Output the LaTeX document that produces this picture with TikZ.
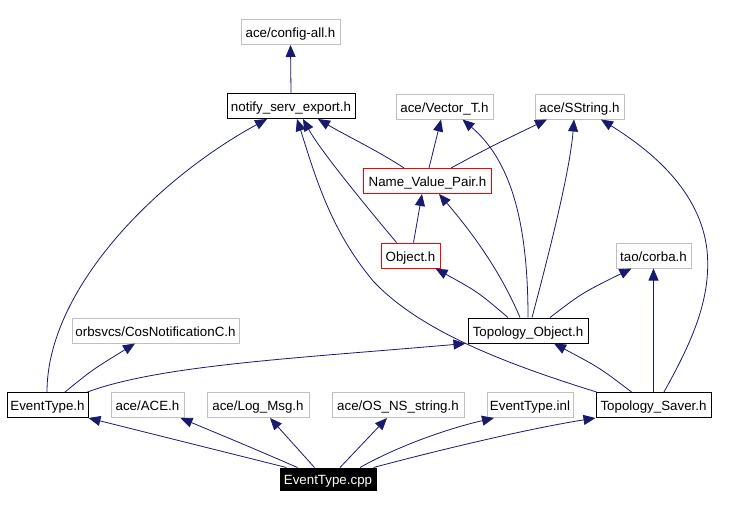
\documentclass[tikz,border=0pt]{standalone}
\usepackage{fontspec}
\setmainfont{Liberation Sans}
\usetikzlibrary{arrows.meta,calc}
\definecolor{edgecol}{HTML}{191970}
\definecolor{graybox}{HTML}{BFBFBF}
\tikzset{
  box/.style={draw, line width=0.75pt, inner sep=0pt, minimum height=18.75pt, text height=8.4pt, text depth=0pt, font=\fontsize{10pt}{12pt}\selectfont, text=black},
  graynode/.style={box, draw=graybox},
  rednode/.style={box, draw=red},
  blacknode/.style={box, draw=black},
  mainnode/.style={box, draw=black, fill=black, text=white},
  edge/.style={draw=edgecol, line width=0.6pt, -{Triangle[length=9pt,width=7.5pt]}, fill=none},
}
\begin{document}
\begin{tikzpicture}[x=0.75pt,y=-0.75pt]
\useasboundingbox[fill=white] (0,0) rectangle (748,510);
% nodes
\node[graynode, minimum width=74.25pt] (cfg) at (290.5,32) {ace/config-all.h};
\node[blacknode, minimum width=96pt] (nse) at (291,106) {notify\_serv\_export.h};
\node[graynode, minimum width=72.75pt] (vec) at (444.5,106.5) {ace/Vector\_T.h};
\node[graynode, minimum width=66.75pt] (sst) at (579.5,106.5) {ace/SString.h};
\node[rednode, minimum width=96pt] (nvp) at (427.5,181) {Name\_Value\_Pair.h};
\node[rednode, minimum width=44.25pt] (obj) at (410.5,255.5) {Object.h};
\node[graynode, minimum width=56.25pt] (tao) at (653.5,255.5) {tao/corba.h};
\node[blacknode, minimum width=90pt] (tob) at (528,330.5) {Topology\_Object.h};
\node[graynode, minimum width=125.25pt] (cos) at (155.5,330.5) {orbsvcs/CosNotificationC.h};
\node[blacknode, minimum width=60.75pt] (evh) at (47.5,405) {EventType.h};
\node[graynode, minimum width=54.75pt] (ace) at (147.5,405) {ace/ACE.h};
\node[graynode, minimum width=76.5pt] (log) at (258,405) {ace/Log\_Msg.h};
\node[graynode, minimum width=99pt] (osn) at (398,405) {ace/OS\_NS\_string.h};
\node[graynode, minimum width=64.5pt] (inl) at (530,405) {EventType.inl};
\node[blacknode, minimum width=86.25pt] (tsv) at (653.5,405) {Topology\_Saver.h};
\node[mainnode, minimum width=72pt, minimum height=16.5pt] (cpp) at (328,479) {EventType.cpp};
% edges
\draw[edge] (nse.north) -- (cfg.south);
\draw[edge] ($(evh.north)+(-0.5,0)$) .. controls (47,290) and (155,180) .. ($(nse.south)+(-24,0)$);
\draw[edge] ($(tsv.north west)+(1,0)$) .. controls (500,362) and (420,330) .. (374,282) .. controls (330,230) and (315,175) .. ($(nse.south)+(6,0)$);
\draw[edge] ($(obj.north west)+(16,0)$) .. controls (365,205) and (320,150) .. ($(nse.south)+(12,0)$);
\draw[edge] ($(nvp.north west)+(41,0)$) .. controls (380,152) and (345,135) .. ($(nse.south)+(27,0)$);
\draw[edge] ($(nvp.north)+(1.5,0)$) -- ($(vec.south)+(-3.5,0)$);
\draw[edge] ($(nvp.north)+(23.5,0)$) .. controls (490,147) .. ($(sst.south)+(-32.5,0)$);
\draw[edge] ($(obj.north)+(3,0)$) -- ($(nvp.south)+(-5.5,0)$);
\draw[edge] ($(tob.north)+(-20,0)$) .. controls (478,292) .. ($(obj.south)+(25,0)$);
\draw[edge] ($(tob.north)+(-8,0)$) .. controls (500,270) and (470,230) .. ($(nvp.south)+(11.5,0)$);
\draw[edge] (tob.north) .. controls (528,220) and (510,160) .. ($(vec.south)+(18,0)$);
\draw[edge] ($(tob.north)+(4,0)$) .. controls (550,250) and (570,170) .. ($(sst.south)+(-5.5,0)$);
\draw[edge] ($(tob.north)+(22,0)$) .. controls (582,293) .. ($(tao.south)+(-22,0)$);
\draw[edge] ($(tsv.north)+(-22,0)$) .. controls (600,368) .. ($(tob.south)+(26,0)$);
\draw[edge] (tsv.north) -- (tao.south);
\draw[edge] ($(tsv.north)+(10.5,0)$) .. controls (690,345) and (712,300) .. (707,250) .. controls (700,190) and (650,150) .. ($(sst.south)+(21.5,0)$);
\draw[edge] ($(evh.north)+(17.5,0)$) .. controls (92,370) .. ($(cos.south)+(-20.5,0)$);
\draw[edge] ($(evh.north east)+(-1,0)$) .. controls (160,365) and (300,358) .. ($(tob.south west)+(-2,0)$);
\draw[edge] ($(cpp.north west)+(7,0)$) -- (evh.south east);
\draw[edge] ($(cpp.north west)+(18,0)$) .. controls (250,447) .. ($(ace.south east)+(-4,0)$);
\draw[edge] ($(cpp.north west)+(35,0)$) -- ($(log.south)+(12,0)$);
\draw[edge] ($(cpp.north)+(12,0)$) -- ($(osn.south)+(-11,0)$);
\draw[edge] ($(cpp.north)+(32,0)$) .. controls (400,445) and (450,428) .. ($(inl.south)+(-36,0)$);
\draw[edge] ($(cpp.north east)+(-3,0)$) .. controls (420,455) and (520,430) .. (tsv.south west);
\end{tikzpicture}
\end{document}
